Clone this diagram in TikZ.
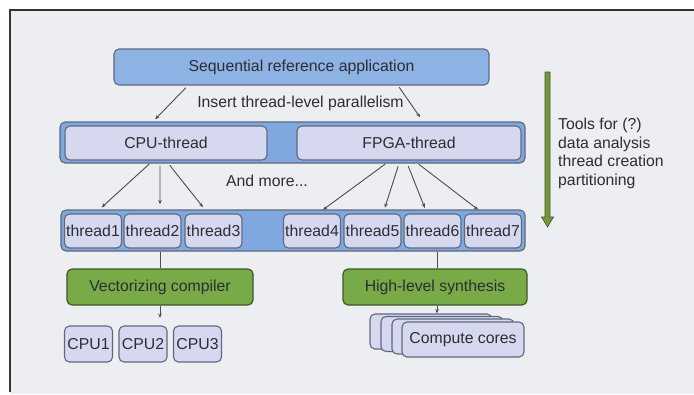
\documentclass[tikz,border=0pt]{standalone}
\usepackage{fontspec}
\setmainfont{Liberation Sans}
\usetikzlibrary{arrows.meta}
\definecolor{bgin}{RGB}{236,238,242}
\definecolor{seqblue}{RGB}{141,178,228}
\definecolor{bandblue}{RGB}{128,168,224}
\definecolor{lav}{RGB}{214,216,240}
\definecolor{edge}{RGB}{95,105,125}
\definecolor{grn}{RGB}{120,170,72}
\definecolor{grnedge}{RGB}{62,88,40}
\definecolor{txt}{RGB}{45,45,50}
\definecolor{arrowgrn}{RGB}{118,150,58}
\begin{document}
\begin{tikzpicture}[x=1bp,y=-1bp,
  every node/.style={font=\fontsize{15.8bp}{18.5bp}\selectfont, text=txt, inner sep=0pt},
  box/.style={draw=edge, line width=1.1bp, rounded corners=5bp},
  seqbox/.style={box, fill=seqblue},
  bandbox/.style={box, fill=bandblue},
  lavbox/.style={box, fill=lav},
  thr/.style={lavbox, minimum width=57bp, minimum height=34bp},
  cpubox/.style={lavbox, minimum width=48bp, minimum height=36bp},
  card/.style={lavbox, minimum width=122bp, minimum height=35bp},
  greenbox/.style={draw=grnedge, line width=1.2bp, rounded corners=5bp, fill=grn, minimum width=186bp, minimum height=36bp},
  conn/.style={draw=txt!85, line width=0.9bp, -{Stealth[length=4.5bp,width=3.5bp]}},
  plainline/.style={draw=txt!85, line width=0.9bp}
]
\useasboundingbox (0,0) rectangle (694,394);
\fill[white] (0,0) rectangle (694,394);
\fill[bgin] (10,10) rectangle (694,394);
\draw[line width=1.6bp, gray!40!black] (694,10) -- (10,10) -- (10,392);

% top
\node[seqbox, minimum width=375bp, minimum height=36bp] (seq) at (301.5,67) {Sequential reference application};
\node (ins) at (300.5,103) {Insert thread-level parallelism};

% CPU / FPGA band
\node[bandbox, minimum width=465bp, minimum height=41bp] (band1) at (292.5,142.5) {};
\node[lavbox, minimum width=202bp, minimum height=34bp] (cpu) at (166,143) {CPU-thread};
\node[lavbox, minimum width=224bp, minimum height=34bp] (fpga) at (409,143) {FPGA-thread};

\node (more) at (267,181) {And more...};

% thread band
\node[bandbox, minimum width=464bp, minimum height=41bp] (band2) at (293,230.5) {};
\node[thr] (t1) at (93,231) {thread1};
\node[thr] (t2) at (152.5,231) {thread2};
\node[thr] (t3) at (213.5,231) {thread3};
\node[thr] (t4) at (312,231) {thread4};
\node[thr] (t5) at (372.5,231) {thread5};
\node[thr] (t6) at (432.5,231) {thread6};
\node[thr] (t7) at (493,231) {thread7};

% tools
\node[greenbox] (vc) at (160,287) {Vectorizing compiler};
\node[greenbox, minimum width=184bp] (hls) at (435,287) {High-level synthesis};

% CPUs
\node[cpubox] (c1) at (88.5,344) {CPU1};
\node[cpubox] (c2) at (143,344) {CPU2};
\node[cpubox] (c3) at (197.5,344) {CPU3};

% compute cores stack
\node[card] (k1) at (431,331.5) {};
\node[card] (k2) at (442,334) {};
\node[card] (k3) at (453,336.5) {};
\node[card] (k4) at (463,339.5) {Compute cores};

% green arrow and notes
\fill[arrowgrn, draw=grnedge, line width=0.6bp] (545,72) -- (550,72) -- (550,217) -- (553.5,217) -- (547.5,227) -- (541.5,217) -- (545,217) -- cycle;
\node[align=left, anchor=west] (tools) at (558,153.5) {Tools for (?)\\data analysis\\thread creation\\partitioning};

% connectors
\draw[conn, shorten <=3bp, shorten >=3bp] ([xshift=-113.5bp]seq.south) -- ([xshift=-139.5bp]band1.north);
\draw[conn, shorten <=2bp, shorten >=5bp] ([xshift=96.5bp]seq.south) -- ([xshift=130.5bp]band1.north);

\draw[conn, shorten <=5bp, shorten >=9bp] ([xshift=-13bp]cpu.south) -- ([xshift=2bp]t1.north);
\draw[conn, shorten <=5bp, shorten >=9bp] ([xshift=-6bp]cpu.south) -- ([xshift=7.5bp]t2.north);
\draw[conn, shorten <=6bp, shorten >=8bp] ([xshift=0bp]cpu.south) -- ([xshift=-5.5bp]t3.north);

\draw[conn, shorten <=6bp, shorten >=6bp] ([xshift=-19bp]fpga.south) -- ([xshift=6bp]t4.north);
\draw[conn, shorten <=6bp, shorten >=6bp] ([xshift=-9bp]fpga.south) -- ([xshift=10.5bp]t5.north);
\draw[conn, shorten <=6bp, shorten >=6bp] ([xshift=-3bp]fpga.south) -- ([xshift=-5.5bp]t6.north);
\draw[conn, shorten <=6bp, shorten >=6bp] ([xshift=5bp]fpga.south) -- ([xshift=-10bp]t7.north);

\draw[plainline] (vc.north |- band2.south) -- (vc.north);
\draw[plainline] ([xshift=2bp]hls.north |- band2.south) -- ([xshift=2bp]hls.north);

\coordinate (cpuin) at (160,318);
\draw[conn] (vc.south) -- (cpuin);
\draw[conn] ([xshift=2bp]hls.south) -- ([xshift=2bp]hls.south |- k1.north);
\end{tikzpicture}
\end{document}
